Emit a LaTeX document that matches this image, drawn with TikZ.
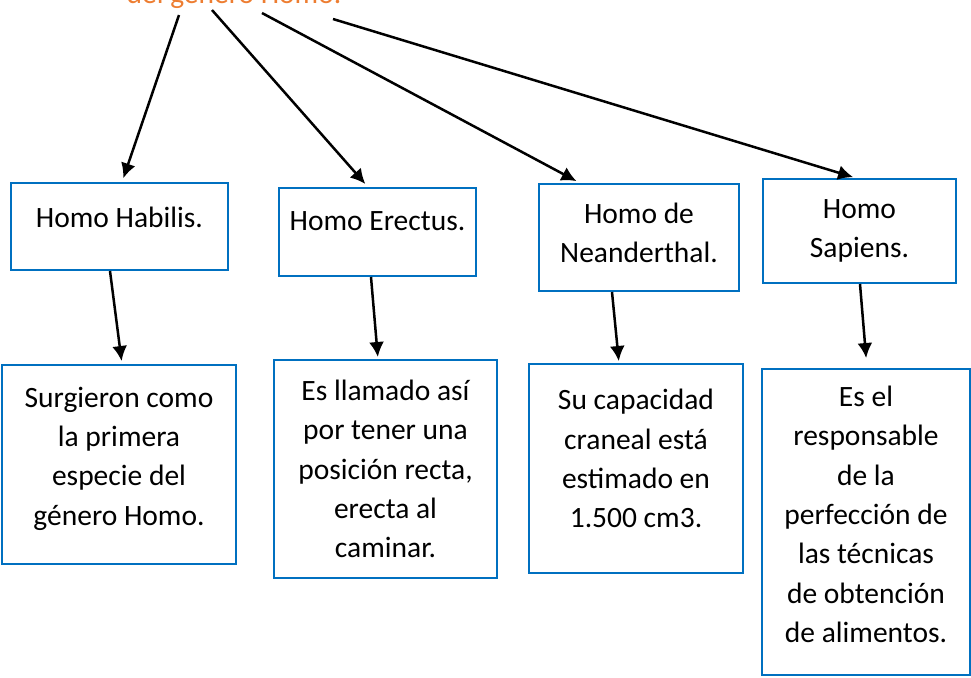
\documentclass[tikz,border=0pt]{standalone}
\usepackage{fontspec}
\setmainfont{Carlito}
\usepackage{tikz}
\usetikzlibrary{arrows.meta}

\definecolor{boxBlue}{HTML}{0070C0}
\definecolor{titleOrange}{HTML}{ED7D31}

\begin{document}
\begin{tikzpicture}[
	x=0.5pt, y=-0.5pt,
	font=\fontsize{14.75}{19.7}\selectfont,
	nodeSpecies/.style={rectangle, draw=boxBlue, line width=1pt, fill=white, inner sep=0pt, align=center},
	nodeDetail/.style={rectangle, draw=boxBlue, line width=1pt, fill=white, inner sep=0pt, align=center},
	arrowLink/.style={-{Latex[length=7.5pt,width=7.5pt]}, line width=1.25pt, black}
]
	\useasboundingbox (0,0) rectangle (971,677);

	\node[anchor=base, text=titleOrange] (title) at (234,3) {del género Homo.};
	\coordinate (from1) at (179,15);
	\coordinate (from2) at (212,10);
	\coordinate (from3) at (262,13);
	\coordinate (from4) at (333,19);

	\node[nodeSpecies, minimum width=108.5pt, minimum height=43.5pt, text depth=9.5pt] (habilis) at (119.5,226.5) {Homo Habilis.};
	\node[nodeSpecies, minimum width=98.5pt, minimum height=44pt, text depth=10.7pt] (erectus) at (377.5,232) {Homo Erectus.};
	\node[nodeSpecies, minimum width=100pt, minimum height=53.5pt, text depth=4.7pt] (neander) at (639,237.5) {Homo de\\Neanderthal.};
	\node[nodeSpecies, minimum width=96.5pt, minimum height=52pt] (sapiens) at (859.5,231) {Homo\\Sapiens.};

	\node[nodeDetail, minimum width=117pt, minimum height=99.5pt, text depth=8.5pt] (habilisInfo) at (119,464.5) {Surgieron como\\la primera\\especie del\\género Homo.};
	\node[nodeDetail, minimum width=111.5pt, minimum height=109pt] (erectusInfo) at (385.5,469) {Es llamado así\\por tener una\\posición recta,\\erecta al\\caminar.};
	\node[nodeDetail, minimum width=107pt, minimum height=104.5pt, text depth=10pt] (neanderInfo) at (636,468.5) {Su capacidad\\craneal está\\estimado en\\1.500 cm3.};
	\node[nodeDetail, minimum width=104pt, minimum height=153pt, text depth=7.7pt] (sapiensInfo) at (866,522) {Es el\\responsable\\de la\\perfección de\\las técnicas\\de obtención\\de alimentos.};

	\draw [arrowLink, shorten >=2pt] (from1) to ([xshift=1.25pt]habilis.north);
	\draw [arrowLink, shorten >=2pt] (from2) to ([xshift=-4.75pt]erectus.north);
	\draw [arrowLink, shorten >=2pt] (from3) to ([xshift=-29.5pt]neander.north);
	\draw [arrowLink, shorten >=1.5pt] (from4) to ([xshift=-1.75pt]sapiens.north);

	\draw [arrowLink, shorten >=1.5pt] ([xshift=-4.75pt]habilis.south) to ([xshift=1.5pt]habilisInfo.north);
	\draw [arrowLink, shorten >=1pt] ([xshift=-3.25pt]erectus.south) to ([xshift=-3.75pt]erectusInfo.north);
	\draw [arrowLink, shorten >=1pt] ([xshift=-13.5pt]neander.south) to ([xshift=-8.5pt]neanderInfo.north);
	\draw [arrowLink, shorten >=5pt] ([xshift=0.25pt]sapiens.south) to ([xshift=0.5pt]sapiensInfo.north);
\end{tikzpicture}
\end{document}
